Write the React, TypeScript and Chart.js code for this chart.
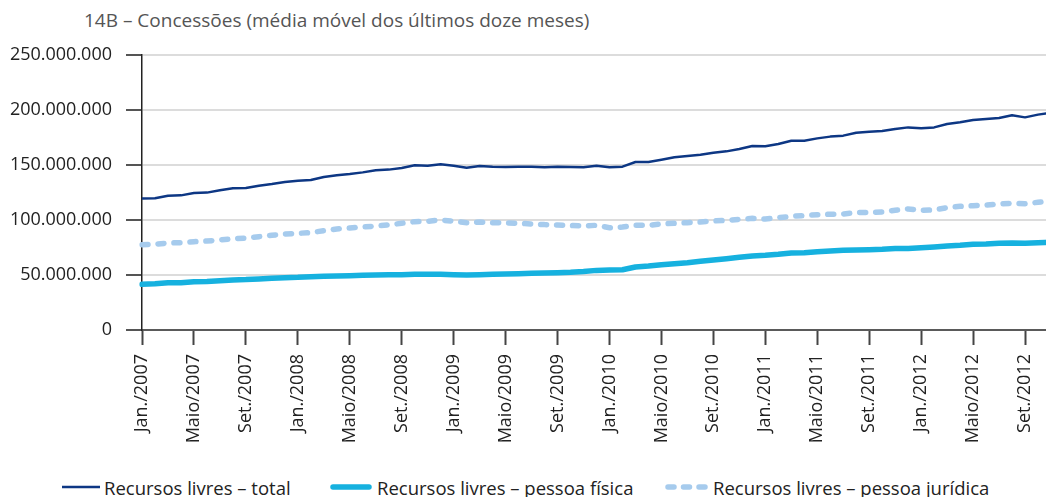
import React, { useEffect, useRef } from "react";
import { Chart, registerables } from "chart.js";

Chart.register(...registerables);

const monthNames = ["Jan.", "Fev.", "Mar.", "Abr.", "Maio", "Jun.", "Jul.", "Ago.", "Set.", "Out.", "Nov.", "Dez."];
const years = [2007, 2008, 2009, 2010, 2011, 2012];

const categories: string[] = [];
years.forEach((y) => monthNames.forEach((m) => categories.push(`${m}/${y}`)));
const labels = categories.slice(0, 71);

const titleText = "14B – Concessões (média móvel dos últimos doze meses)";

// values in millions of R$
const totalSeries = [
  119.6, 119.7, 122.1, 122.4, 124.5, 124.9, 127.0, 128.8, 129.1, 131.2, 132.7, 134.5,
  135.7, 136.3, 139.1, 140.6, 141.8, 143.3, 145.2, 145.8, 147.3, 149.7, 149.4, 150.6,
  149.4, 147.6, 149.1, 148.5, 148.2, 148.5, 148.5, 147.9, 148.5, 148.2, 147.9, 149.4,
  147.9, 148.5, 152.7, 152.8, 154.8, 157.0, 158.2, 159.4, 161.2, 162.4, 164.5, 167.3,
  167.0, 169.1, 172.1, 172.1, 174.2, 175.8, 176.7, 179.4, 180.3, 180.9, 182.7, 184.2,
  183.3, 184.2, 187.3, 188.8, 190.9, 191.8, 192.7, 195.2, 193.3, 195.8, 197.6,
];

const fisicaSeries = [
  41.5, 42.1, 43.0, 43.0, 43.9, 44.2, 44.8, 45.5, 45.8, 46.4, 47.0, 47.6,
  47.9, 48.5, 48.8, 49.1, 49.4, 49.7, 50.0, 50.3, 50.3, 50.6, 50.6, 50.6,
  50.3, 50.0, 50.3, 50.6, 50.9, 51.2, 51.5, 51.8, 52.1, 52.4, 53.1, 54.2,
  54.5, 54.8, 57.3, 58.2, 59.4, 60.3, 61.2, 62.4, 63.6, 64.8, 66.1, 67.3,
  67.9, 68.8, 70.0, 70.3, 71.2, 71.8, 72.4, 72.7, 73.0, 73.3, 74.0, 74.2,
  74.8, 75.5, 76.4, 77.0, 77.9, 78.2, 78.8, 79.1, 78.8, 79.4, 79.7,
];

const juridicaSeries = [
  77.6, 77.9, 79.1, 79.4, 80.3, 80.9, 81.8, 83.0, 83.6, 84.8, 86.1, 87.3,
  87.9, 88.5, 90.3, 91.8, 92.7, 93.6, 94.5, 95.5, 97.0, 98.5, 98.8, 100.0,
  98.8, 97.6, 98.2, 97.6, 97.3, 97.0, 96.4, 95.8, 95.5, 95.0, 94.6, 95.2,
  93.0, 93.6, 95.2, 95.2, 96.4, 97.0, 97.6, 98.2, 99.1, 99.7, 100.6, 101.5,
  100.9, 102.1, 103.3, 104.0, 104.8, 105.2, 105.5, 106.7, 107.0, 107.3, 108.8, 110.0,
  108.8, 109.1, 111.2, 112.4, 113.0, 113.6, 114.5, 115.2, 114.8, 116.1, 117.3,
];

const seriesNames = [
  "Recursos livres – total",
  "Recursos livres – pessoa física",
  "Recursos livres – pessoa jurídica",
];
const seriesColors = ["#0d3784", "#16b1df", "#a6cbed"];

const yMax = 250000000;
const yStep = 50000000;

const fmt = (v: number) => String(Math.round(v)).replace(/\B(?=(\d{3})+(?!\d))/g, ".");

const FONT = "'Open Sans', sans-serif";

function LegendSample({ idx }: { idx: number }) {
  if (idx === 0) {
    return (
      <svg width="40" height="10" style={{ display: "block" }}>
        <line x1="0" y1="5" x2="38" y2="5" stroke={seriesColors[0]} strokeWidth="2.5" />
      </svg>
    );
  }
  if (idx === 1) {
    return (
      <svg width="44" height="10" style={{ display: "block" }}>
        <line x1="3" y1="5" x2="39" y2="5" stroke={seriesColors[1]} strokeWidth="5.5" strokeLinecap="round" />
      </svg>
    );
  }
  return (
    <svg width="45" height="10" style={{ display: "block" }}>
      <line x1="3" y1="5" x2="40" y2="5" stroke={seriesColors[2]} strokeWidth="5.5" strokeLinecap="round" strokeDasharray="6 9.5" />
    </svg>
  );
}

const legendLeft = [54, 322, 657];
const legendGap = [2, 3, 3];

export default function App() {
  const canvasRef = useRef<HTMLCanvasElement | null>(null);

  useEffect(() => {
    if (!canvasRef.current) return;
    const toUnits = (arr: number[]) => arr.map((v) => v * 1000000);
    const chart = new Chart(canvasRef.current, {
      type: "line",
      data: {
        labels,
        datasets: [
          {
            label: seriesNames[2],
            data: toUnits(juridicaSeries),
            borderColor: seriesColors[2],
            borderWidth: 5.5,
            borderDash: [6, 10],
            borderCapStyle: "round",
            pointRadius: 0,
            tension: 0,
          },
          {
            label: seriesNames[1],
            data: toUnits(fisicaSeries),
            borderColor: seriesColors[1],
            borderWidth: 5.5,
            borderCapStyle: "round",
            borderJoinStyle: "round",
            pointRadius: 0,
            tension: 0,
          },
          {
            label: seriesNames[0],
            data: toUnits(totalSeries),
            borderColor: seriesColors[0],
            borderWidth: 2.5,
            borderJoinStyle: "round",
            pointRadius: 0,
            tension: 0,
          },
        ],
      },
      options: {
        animation: false,
        responsive: true,
        maintainAspectRatio: false,
        layout: { padding: { top: 23, right: 3, left: 0, bottom: 0 } },
        plugins: {
          legend: { display: false },
          tooltip: { enabled: false },
          title: { display: false },
        },
        scales: {
          x: {
            offset: false,
            afterFit: (scale: any) => {
              scale.height = 120;
              scale.paddingRight = 0;
              scale.paddingLeft = 0;
            },
            grid: {
              drawOnChartArea: false,
              drawTicks: true,
              tickLength: 15,
              tickWidth: 2,
              tickColor: "#444",
            },
            border: { display: true, color: "#5a5a5a", width: 2 },
            ticks: {
              autoSkip: false,
              maxRotation: 90,
              minRotation: 90,
              padding: 9,
              color: "#222",
              font: { family: FONT, size: 18 },
              callback: (_v: any, i: number) => (i % 4 === 0 ? labels[i] : null),
            },
          },
          y: {
            min: 0,
            max: yMax,
            afterFit: (scale: any) => {
              scale.width = 134;
              scale.paddingTop = 0;
              scale.paddingBottom = 0;
            },
            grid: {
              drawOnChartArea: true,
              tickLength: 16,
              tickWidth: 2,
              lineWidth: 2,
              color: (ctx: any) => (ctx.tick && ctx.tick.value === 0 ? "rgba(0,0,0,0)" : "#dcdcdc"),
              tickColor: "#555",
            },
            border: { display: true, color: "#222", width: 1.5 },
            ticks: {
              stepSize: yStep,
              padding: 14,
              color: "#222",
              font: { family: FONT, size: 18 },
              callback: (v: any) => fmt(Number(v)),
            },
          },
        },
      },
    });
    return () => chart.destroy();
  }, []);

  return (
    <div style={{ width: 1046, fontFamily: FONT }}>
      <div style={{ height: 24, lineHeight: "24px", fontSize: 19, color: "#555", paddingLeft: 76, whiteSpace: "nowrap" }}>
        {titleText}
      </div>
      <div style={{ position: "relative", width: 1046, height: 418 }}>
        <canvas ref={canvasRef} />
      </div>
      <div
        style={{
          position: "relative",
          marginTop: 25,
          height: 24,
          fontSize: 18.5,
          color: "#222",
          whiteSpace: "nowrap",
        }}
      >
        {seriesNames.map((name, i) => (
          <div
            key={name}
            style={{
              position: "absolute",
              left: legendLeft[i],
              top: 0,
              height: 24,
              display: "flex",
              alignItems: "center",
            }}
          >
            <LegendSample idx={i} />
            <span style={{ marginLeft: legendGap[i] }}>{name}</span>
          </div>
        ))}
      </div>
    </div>
  );
}
